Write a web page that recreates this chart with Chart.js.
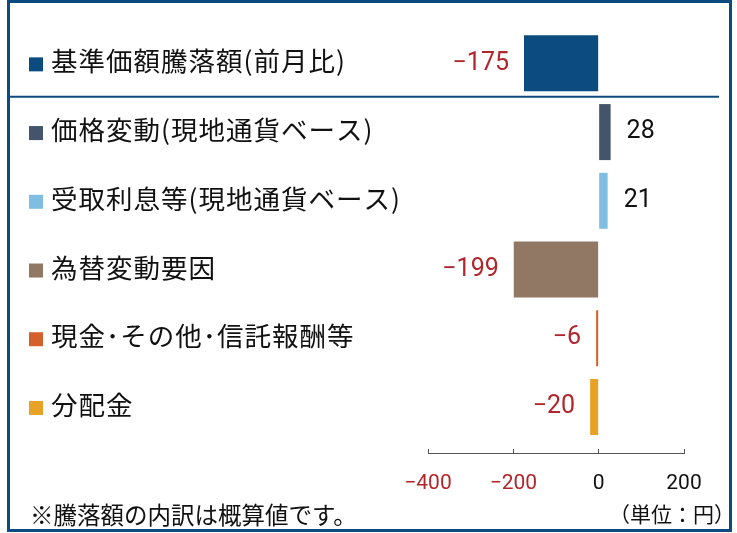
<!DOCTYPE html>
<html>
<head>
<meta charset="utf-8">
<script src="https://cdn.jsdelivr.net/npm/chart.js@4"></script>
<style>
  html, body { margin: 0; padding: 0; background: #fff; }
  #wrap { position: relative; width: 737px; height: 533px; overflow: hidden; }
  #frame { position: absolute; left: 7px; top: 0; width: 725px; height: 532px; box-sizing: border-box; border: 3px solid #0c4b7f; pointer-events: none; }
  .note { position: absolute; font-family: 'Noto Sans CJK JP', sans-serif; color: #111; white-space: nowrap; line-height: 1; }
  #foot { left: 30px; top: 503px; font-size: 23.5px; }
  #unit { right: 2px; top: 503px; font-size: 21px; }
</style>
</head>
<body>
<div id="wrap">
  <canvas id="chart"></canvas>
  <div id="frame"></div>
  <div class="note" id="foot">※騰落額の内訳は概算値です。</div>
  <div class="note" id="unit">（単位：円）</div>
</div>
<script>
const categories = ['基準価額騰落額(前月比)', '価格変動(現地通貨ベース)', '受取利息等(現地通貨ベース)', '為替変動要因', '現金･その他･信託報酬等', '分配金'];
const values = [-175, 28, 21, -199, -6, -20];
const barColors = ['#0c4b7f', '#44546a', '#7fbde3', '#917864', '#d4602b', '#e8a225'];
const xTicks = [-400, -200, 0, 200];

const NEG_RED = '#b0262c';
const fmt = (v) => (v < 0 ? '\u2212' + Math.abs(v) : String(v));

// category names with colour squares, value labels and the divider under the total
const rowLabels = {
  id: 'rowLabels',
  afterDatasetsDraw(chart) {
    const { ctx } = chart;
    const x = chart.scales.x;
    const y = chart.scales.y;

    ctx.save();
    ctx.strokeStyle = '#0c4b7f';
    ctx.lineWidth = 2;
    const sepY = y.getPixelForValue(0.5) - 1;
    ctx.beginPath();
    ctx.moveTo(10, sepY);
    ctx.lineTo(719, sepY);
    ctx.stroke();

    categories.forEach((name, i) => {
      const cy = y.getPixelForValue(i);
      ctx.fillStyle = barColors[i];
      ctx.fillRect(29, cy - 6, 14, 14);
      ctx.fillStyle = '#111';
      ctx.font = '26.5px "Noto Sans CJK JP", sans-serif';
      ctx.letterSpacing = '1px';
      ctx.textAlign = 'left';
      ctx.textBaseline = 'middle';
      ctx.fillText(name, 51, cy - 2);
      ctx.letterSpacing = '0px';

      const v = values[i];
      const end = x.getPixelForValue(v);
      ctx.font = '25px Roboto, sans-serif';
      if (v < 0) {
        ctx.fillStyle = NEG_RED;
        ctx.textAlign = 'right';
        ctx.fillText(fmt(v), end - 15, cy);
      } else {
        ctx.fillStyle = '#111';
        ctx.textAlign = 'left';
        ctx.fillText(fmt(v), end + 16, cy);
      }
    });
    ctx.restore();
  }
};

new Chart(document.getElementById('chart'), {
  type: 'bar',
  data: {
    labels: categories,
    datasets: [{
      data: values.map((v, i) => ({ x: v, y: i })),
      backgroundColor: barColors,
      barPercentage: 0.815,
      categoryPercentage: 1
    }]
  },
  options: {
    indexAxis: 'y',
    responsive: true,
    maintainAspectRatio: false,
    animation: false,
    layout: { padding: { left: 428, right: 53, top: 29, bottom: 0 } },
    plugins: { legend: { display: false }, tooltip: { enabled: false } },
    scales: {
      y: {
        type: 'linear',
        reverse: true,
        offset: false,
        min: -0.5,
        max: 5.67,
        afterBuildTicks: (s) => { s.ticks = categories.map((c, i) => ({ value: i })); },
        display: false
      },
      x: {
        min: -400,
        max: 200,
        afterBuildTicks: (s) => { s.ticks = xTicks.map((v) => ({ value: v })); },
        afterFit: (s) => { s.height = 80; },
        grid: { drawOnChartArea: false, drawTicks: true, tickLength: -4, color: '#555', lineWidth: 1 },
        border: { display: true, color: '#555', width: 1 },
        ticks: {
          padding: 22,
          maxRotation: 0,
          font: { family: 'Roboto', size: 21 },
          color: (c) => (c.tick && c.tick.value < 0 ? NEG_RED : '#111'),
          callback: (v) => fmt(v)
        }
      }
    }
  },
  plugins: [rowLabels]
});
</script>
</body>
</html>
